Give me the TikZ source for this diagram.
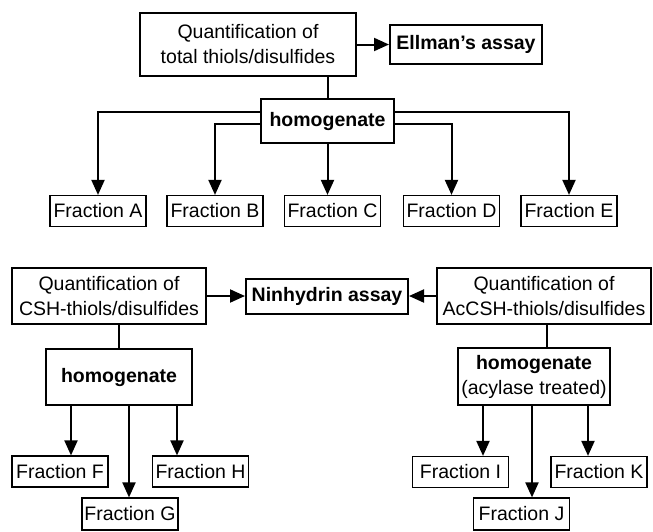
\documentclass[tikz,border=0pt]{standalone}
\usepackage{fontspec}
\setmainfont{Liberation Sans}
\usetikzlibrary{arrows.meta}

\begin{document}
\begin{tikzpicture}[x=1pt, y=-1pt,
box/.style = {draw, line width=1.3pt, align=center, inner sep=0pt,
              font=\fontsize{19.5}{25}\selectfont},
boldbox/.style = {box, line width=2pt,
                  font=\fontsize{19.5}{25}\selectfont\bfseries},
fracbox/.style = {box, line width=1.2pt, minimum width=96pt, minimum height=31pt},
link/.style = {line width=2pt},
arr/.style  = {link, -{Triangle[length=15pt,width=13pt]}},
                    ]
\useasboundingbox (0,0) rectangle (653,531);
%-------
\node (quantT) [box, minimum width=216pt, minimum height=63pt] at (248,44.5)
        {Quantification of\\total thiols/disulfides};
\node (ellman) [boldbox, minimum width=152pt, minimum height=39pt] at (466,44.5)
        {Ellman's assay};
\node (homT)   [boldbox, minimum width=133pt, minimum height=44pt] at (327.5,121)
        {homogenate};
%
\node (fracA) [fracbox] at (98,211)    {Fraction A};
\node (fracB) [fracbox] at (215,211)   {Fraction B};
\node (fracC) [fracbox] at (332.5,211) {Fraction C};
\node (fracD) [fracbox] at (451.5,211) {Fraction D};
\node (fracE) [fracbox] at (569,211)   {Fraction E};
%---
\node (quantC) [box, minimum width=194pt, minimum height=56pt] at (109,296)
        {Quantification of\\CSH-thiols/disulfides};
\node (ninh)   [boldbox, minimum width=162pt, minimum height=35pt] at (327,296)
        {Ninhydrin assay};
\node (quantA) [box, minimum width=214pt, minimum height=56pt] at (544,296)
        {Quantification of\\AcCSH-thiols/disulfides};
%
\node (homC) [boldbox, minimum width=146pt, minimum height=56pt] at (119,377)
        {homogenate};
\node (homA) [box, line width=2pt, minimum width=152pt, minimum height=57pt] at (534,376.5)
        {\textbf{homogenate}\\(acylase treated)};
%
\node (fracF) [fracbox] at (60,471.5)    {Fraction F};
\node (fracH) [fracbox] at (200.5,471.5) {Fraction H};
\node (fracG) [fracbox, minimum height=32pt] at (130,514) {Fraction G};
\node (fracI) [fracbox] at (460.5,472)   {Fraction I};
\node (fracK) [fracbox] at (599,472)     {Fraction K};
\node (fracJ) [fracbox, minimum height=32pt] at (521.5,514) {Fraction J};
% top part
\draw[arr]  (quantT) -- (ellman);
\draw[link] (quantT.south -| homT) -- (homT);
\draw[arr]  ([yshift=9pt]homT.west)  -| (fracA);
\draw[arr]  ([yshift=-3pt]homT.west) -| (fracB);
\draw[arr]  (homT) -- (homT |- fracC.north);
\draw[arr]  ([yshift=-3pt]homT.east) -| (fracD);
\draw[arr]  ([yshift=9pt]homT.east)  -| (fracE);
% lower part
\draw[arr]  (quantC) -- (ninh);
\draw[arr]  (quantA) -- (ninh);
\draw[link] (quantC.south -| homC) -- (homC);
\draw[link] ([xshift=3pt]quantA.south) -- ([xshift=3pt]quantA.south |- homA.north);
%
\draw[arr]  ([xshift=-48pt]homC.south) -- ([xshift=-48pt]homC.south |- fracF.north);
\draw[arr]  ([xshift=10pt]homC.south)  -- ([xshift=10pt]homC.south |- fracG.north);
\draw[arr]  ([xshift=58pt]homC.south)  -- ([xshift=58pt]homC.south |- fracH.north);
\draw[arr]  ([xshift=-51pt]homA.south) -- ([xshift=-51pt]homA.south |- fracI.north);
\draw[arr]  ([xshift=-2pt]homA.south)  -- ([xshift=-2pt]homA.south |- fracJ.north);
\draw[arr]  ([xshift=54pt]homA.south)  -- ([xshift=54pt]homA.south |- fracK.north);
\end{tikzpicture}
\end{document}
